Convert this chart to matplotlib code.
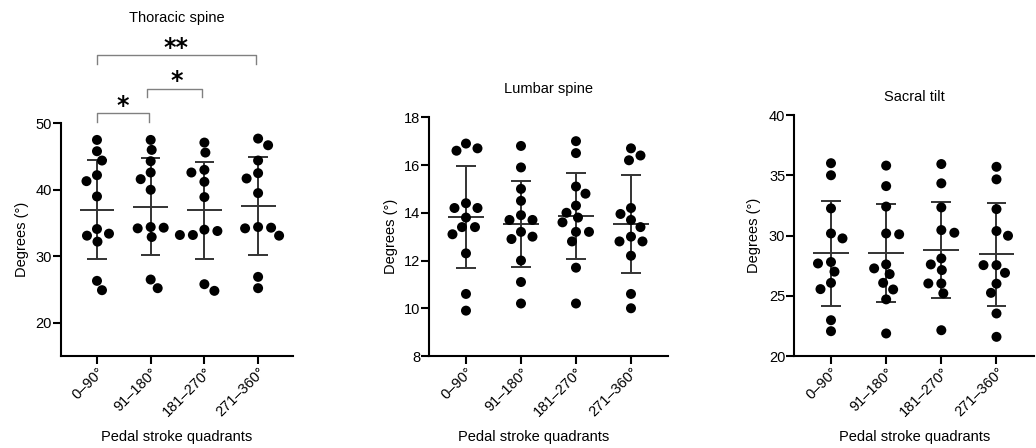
import numpy as np
import matplotlib
matplotlib.use("Agg")
import matplotlib.pyplot as plt

plt.rcParams['font.family'] = ['Liberation Sans', 'DejaVu Sans']

# Quadrants of the pedal stroke (x categories)
quadrants = ['0\u201390\u00b0', '91\u2013180\u00b0', '181\u2013270\u00b0', '271\u2013360\u00b0']

# Individual subject values (degrees)
thoracic = [
    [47.5, 45.8, 44.4, 42.2, 41.3, 39.0, 33.1, 33.4, 34.1, 32.2, 24.9, 26.3],
    [47.5, 46.0, 44.3, 42.6, 41.6, 40.0, 34.2, 32.9, 34.3, 34.4, 25.2, 26.5],
    [47.1, 45.6, 43.0, 42.6, 41.2, 38.9, 33.8, 33.2, 33.2, 34.0, 24.8, 25.8],
    [47.7, 46.7, 44.4, 42.5, 41.7, 39.5, 34.2, 33.1, 34.3, 34.4, 26.9, 25.2],
]
lumbar = [
    [16.9, 16.6, 16.7, 14.2, 14.2, 14.4, 13.8, 13.4, 13.4, 13.1, 12.3, 10.6, 9.9],
    [16.8, 15.9, 15.0, 14.5, 13.7, 13.7, 13.9, 13.0, 13.2, 12.9, 12.0, 11.1, 10.2],
    [17.0, 16.5, 14.8, 15.1, 14.3, 13.8, 14.0, 13.6, 13.2, 13.2, 12.8, 11.7, 10.2],
    [16.7, 16.2, 16.4, 14.2, 13.95, 13.7, 13.4, 13.0, 12.8, 12.8, 12.2, 10.6, 10.0],
]
sacral = [
    [36.0, 35.0, 32.25, 30.17, 29.76, 27.68, 27.8, 27.0, 26.07, 25.55, 22.97, 22.06],
    [35.8, 34.1, 32.4, 30.1, 30.17, 27.6, 26.8, 27.27, 26.07, 25.52, 24.7, 21.87],
    [35.93, 34.33, 32.33, 30.23, 30.45, 28.1, 27.13, 27.6, 26.02, 26.02, 25.2, 22.14],
    [35.7, 34.66, 32.19, 30.37, 29.98, 27.54, 27.54, 26.9, 26.0, 25.24, 23.53, 21.59],
]

# Significant pairwise comparisons in the thoracic panel (group i, group j, label)
thoracic_sig = [(0, 1, '*'), (1, 2, '*'), (0, 3, '**')]

FS = 10.5
DOT_D = 10.0  # dot diameter in pixels


def swarm_x(ax, xc, vals, wx=13.0, wy=10.0):
    """Beeswarm: shift dots sideways until their (elliptic) footprints do not overlap."""
    to_px = ax.transData.transform
    x0 = to_px((xc, 0))[0]
    px_per_x = to_px((xc + 1, 0))[0] - x0
    placed = []
    offs = np.zeros(len(vals))
    order = np.argsort(vals)[::-1]
    for i in order:
        yp = to_px((xc, vals[i]))[1]
        bal = sum(p[0] for p in placed)
        sides = (-1, 1) if bal > 0 else (1, -1)
        best = None
        k = 0
        while best is None:
            for s in ((1,) if k == 0 else sides):
                cand = s * k * 0.5
                if all(((cand - px) / wx) ** 2 + ((yp - py) / wy) ** 2 >= 1 for px, py in placed):
                    best = cand
                    break
            k += 1
        placed.append((best, yp))
        offs[i] = best / px_per_x
    return xc + offs


def draw_panel(ax, groups, title, title_y, ylim, yticks, ylab_x):
    ax.set_ylim(ylim)
    for spine in ['top', 'right']:
        ax.spines[spine].set_visible(False)
    for spine in ['left', 'bottom']:
        ax.spines[spine].set_linewidth(1.5)
    ax.tick_params(width=1.5, length=5.5, labelsize=FS, color='black', pad=1)
    ax.set_yticks(yticks)
    ax.set_xticks(range(len(quadrants)))
    ax.set_xticklabels(quadrants)
    plt.setp(ax.get_xticklabels(), rotation=45, ha='right', rotation_mode='anchor')

    for i, vals in enumerate(groups):
        vals = np.array(vals)
        m = vals.mean()
        sd = vals.std(ddof=1)
        # mean line and SD whiskers
        ax.hlines(m, i - 0.325, i + 0.325, color='#333333', lw=1.4, zorder=2)
        ax.vlines(i, m - sd, m + sd, color='#333333', lw=1.4, zorder=2)
        ax.hlines([m - sd, m + sd], i - 0.18, i + 0.18, color='#333333', lw=1.4, zorder=2)
        xs = swarm_x(ax, i, vals)
        ax.scatter(xs, vals, s=(DOT_D * 0.72) ** 2, color='black', edgecolors='none',
                   zorder=3, clip_on=False)

    ax.text(0.5, title_y, title, transform=ax.transAxes, ha='center', va='center', fontsize=FS)
    ax.set_ylabel('Degrees (\u00b0)', fontsize=FS)
    ax.yaxis.set_label_coords(ylab_x, 0.5)
    ax.set_xlabel('Pedal stroke quadrants', fontsize=FS)


fig = plt.figure(figsize=(10.36, 4.48), dpi=100)
W, H = 1036, 448

# axes boxes from pixel positions in the reference
ax1 = fig.add_axes([61 / W, 92 / H, 232 / W, (356 - 123.3) / H])
ax1.set_xlim(-0.67, 3.65)
ax2 = fig.add_axes([429.3 / W, 92 / H, 238.7 / W, (356 - 117.3) / H])
ax2.set_xlim(-0.667, 3.673)
ax3 = fig.add_axes([794.3 / W, 92 / H, 239.7 / W, (356 - 115) / H])
ax3.set_xlim(-0.665, 3.68)

draw_panel(ax1, thoracic, 'Thoracic spine', (356 - 18) / 232.7, (15, 50), [20, 30, 40, 50], -0.14)
draw_panel(ax2, lumbar, 'Lumbar spine', (356 - 89) / 238.7, (8, 18), [8, 10, 12, 14, 16, 18], -0.132)
draw_panel(ax3, sacral, 'Sacral tilt', (356 - 97) / 241, (20, 40), [20, 25, 30, 35, 40], -0.139)

ax1.xaxis.set_label_coords(0.5, -(430 - 356) / 232.7)
ax2.xaxis.set_label_coords(0.437, -(430 - 356) / 238.7)
ax3.xaxis.set_label_coords(0.5, -(430 - 356) / 241)

# significance brackets above the thoracic panel
bracket_y = [51.5, 55.2, 60.2]
drop = 1.3
for (i, j, lab), yb in zip(thoracic_sig, bracket_y):
    x_lo = i - 0.07 * (i > 0)
    x_hi = j - 0.04
    ax1.plot([x_lo, x_lo, x_hi, x_hi], [yb - drop, yb, yb, yb - drop], color='#808080',
             lw=1.0, clip_on=False)
    ax1.annotate(lab, xy=((i + j) / 2 - 0.02, yb), xytext=(0, 5.5), textcoords='offset points',
                 ha='center', va='center', fontsize=17, fontweight='bold',
                 family='DejaVu Sans', annotation_clip=False)

fig.savefig('out.png', dpi=100)
